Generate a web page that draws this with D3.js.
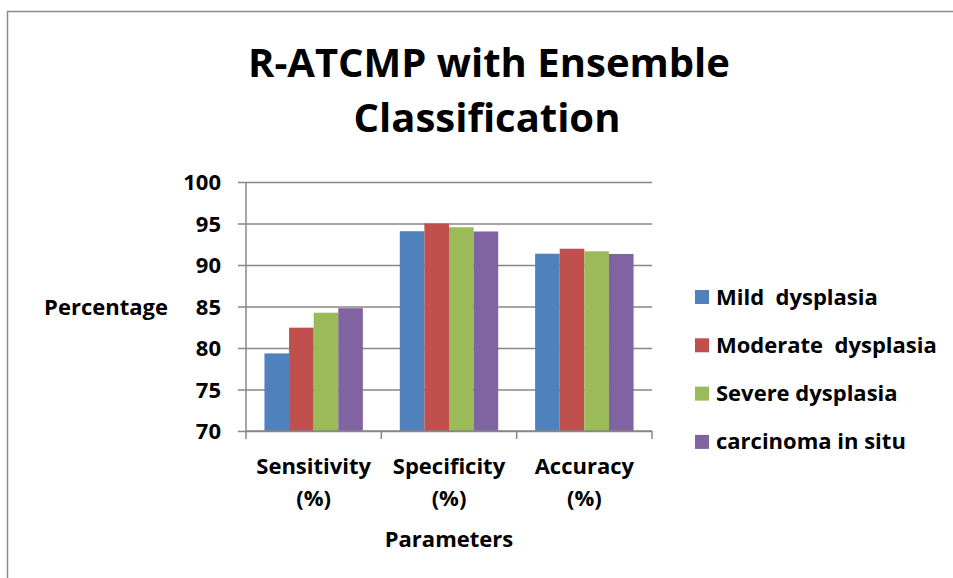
<!DOCTYPE html>
<html>
<head>
<meta charset="utf-8">
<script src="https://cdn.jsdelivr.net/npm/d3@7"></script>
<style>
  html, body { margin: 0; padding: 0; background: #fff; }
  svg { display: block; }
  text { font-family: "Open Sans", Lato, sans-serif; font-weight: bold; fill: #000; }
</style>
</head>
<body>
<svg id="chart" width="953" height="578"></svg>
<script>
// Chart data
const categories = ["Sensitivity (%)", "Specificity (%)", "Accuracy (%)"];
const seriesNames = ["Mild  dysplasia", "Moderate  dysplasia", "Severe dysplasia", "carcinoma in situ"];
const mild = [79.35, 94.07, 91.36];
const moderate = [82.45, 95.0, 91.96];
const severe = [84.25, 94.55, 91.65];
const carcinoma = [84.8, 94.04, 91.33];
const yTicks = [70, 75, 80, 85, 90, 95, 100];
const colors = ["#4F81BD", "#C0504D", "#9BBB59", "#8064A2"];

const seriesValues = [mild, moderate, severe, carcinoma];
const labelFont = "22px";

const svg = d3.select("#chart");

// outer chart frame
svg.append("path")
  .attr("d", "M7.5,578 L7.5,11.5 L953,11.5")
  .attr("fill", "none").attr("stroke", "#8a8a8a").attr("stroke-width", 1.5);

const plot = { left: 246, right: 652, top: 182, bottom: 431 };

const x = d3.scaleBand().domain(categories).range([plot.left, plot.right]).padding(0);
// clustered bars: gap between clusters is 1.5 bar widths
const gapRatio = 1.5;
const n = seriesNames.length;
const xInner = d3.scaleBand().domain(d3.range(n))
  .range([x.bandwidth() * (gapRatio / 2) / (n + gapRatio),
          x.bandwidth() * (1 - (gapRatio / 2) / (n + gapRatio))])
  .padding(0);

const y = d3.scaleLinear().domain([70, 100]).range([plot.bottom, plot.top]);

// horizontal gridlines + left tick marks
const grid = svg.append("g").attr("transform", `translate(${plot.left},0)`)
  .call(d3.axisLeft(y).tickValues(yTicks).tickSize(8).tickFormat(d => d));
grid.select(".domain").remove();
grid.selectAll(".tick line").attr("stroke", "#878787").attr("stroke-width", 1.5);
grid.selectAll(".tick").append("line")
  .attr("x1", 0).attr("x2", plot.right - plot.left)
  .attr("stroke", "#878787").attr("stroke-width", 1.5);
grid.selectAll(".tick text")
  .attr("x", -25)
  .attr("dy", "0.36em")
  .style("font-family", "'Open Sans', sans-serif")
  .style("font-weight", "bold")
  .style("font-size", labelFont)
  .attr("fill", "#000");

// bars
const groups = svg.append("g").selectAll("g")
  .data(categories).join("g")
  .attr("transform", d => `translate(${x(d)},0)`);
groups.selectAll("rect")
  .data((c, ci) => seriesValues.map((vals, si) => ({ si, v: vals[ci] })))
  .join("rect")
  .attr("x", d => xInner(d.si))
  .attr("width", xInner.bandwidth())
  .attr("y", d => y(d.v))
  .attr("height", d => y(70) - y(d.v))
  .attr("fill", d => colors[d.si]);

// left axis line
svg.append("line")
  .attr("x1", plot.left).attr("x2", plot.left)
  .attr("y1", plot.top).attr("y2", plot.bottom)
  .attr("stroke", "#878787").attr("stroke-width", 1.5);

// bottom axis with category boundary ticks
const bottom = svg.append("g");
bottom.append("line")
  .attr("x1", plot.left).attr("x2", plot.right)
  .attr("y1", plot.bottom).attr("y2", plot.bottom)
  .attr("stroke", "#878787").attr("stroke-width", 1.5);
const boundaries = categories.map(c => x(c)).concat([x(categories[categories.length - 1]) + x.bandwidth()]);
bottom.selectAll("line.b").data(boundaries).join("line").attr("class", "b")
  .attr("x1", d => d).attr("x2", d => d)
  .attr("y1", plot.bottom).attr("y2", plot.bottom + 8)
  .attr("stroke", "#878787").attr("stroke-width", 1.5);

// category labels (two lines)
const catLabels = svg.append("g").selectAll("text")
  .data(categories).join("text")
  .attr("text-anchor", "middle")
  .style("font-size", labelFont);
catLabels.each(function (d) {
  const parts = d.split(" ");
  const t = d3.select(this);
  const cx = x(d) + x.bandwidth() / 2;
  t.append("tspan").attr("x", cx).attr("y", 474).text(parts[0]);
  t.append("tspan").attr("x", cx).attr("y", 506).text(parts[1]);
});

// axis titles
svg.append("text").attr("x", 449).attr("y", 547).attr("text-anchor", "middle")
  .style("font-size", labelFont).text("Parameters");
svg.append("text").attr("x", 106).attr("y", 315).attr("text-anchor", "middle")
  .style("font-size", labelFont).text("Percentage");

// chart title
const title = svg.append("text").attr("text-anchor", "middle").style("font-size", "40px");
title.append("tspan").attr("x", 489).attr("y", 77).text("R-ATCMP with Ensemble");
title.append("tspan").attr("x", 487).attr("y", 132).text("Classification");

// legend
const legend = svg.append("g").selectAll("g")
  .data(seriesNames).join("g")
  .attr("transform", (d, i) => `translate(695, ${297 + i * 48.3})`);
legend.append("rect").attr("x", 0).attr("y", -7).attr("width", 14).attr("height", 14)
  .attr("fill", (d, i) => colors[i]);
legend.append("text").attr("x", 21).attr("y", 7.5)
  .style("font-size", labelFont).style("white-space", "pre")
  .attr("xml:space", "preserve")
  .text(d => d);
</script>
</body>
</html>
